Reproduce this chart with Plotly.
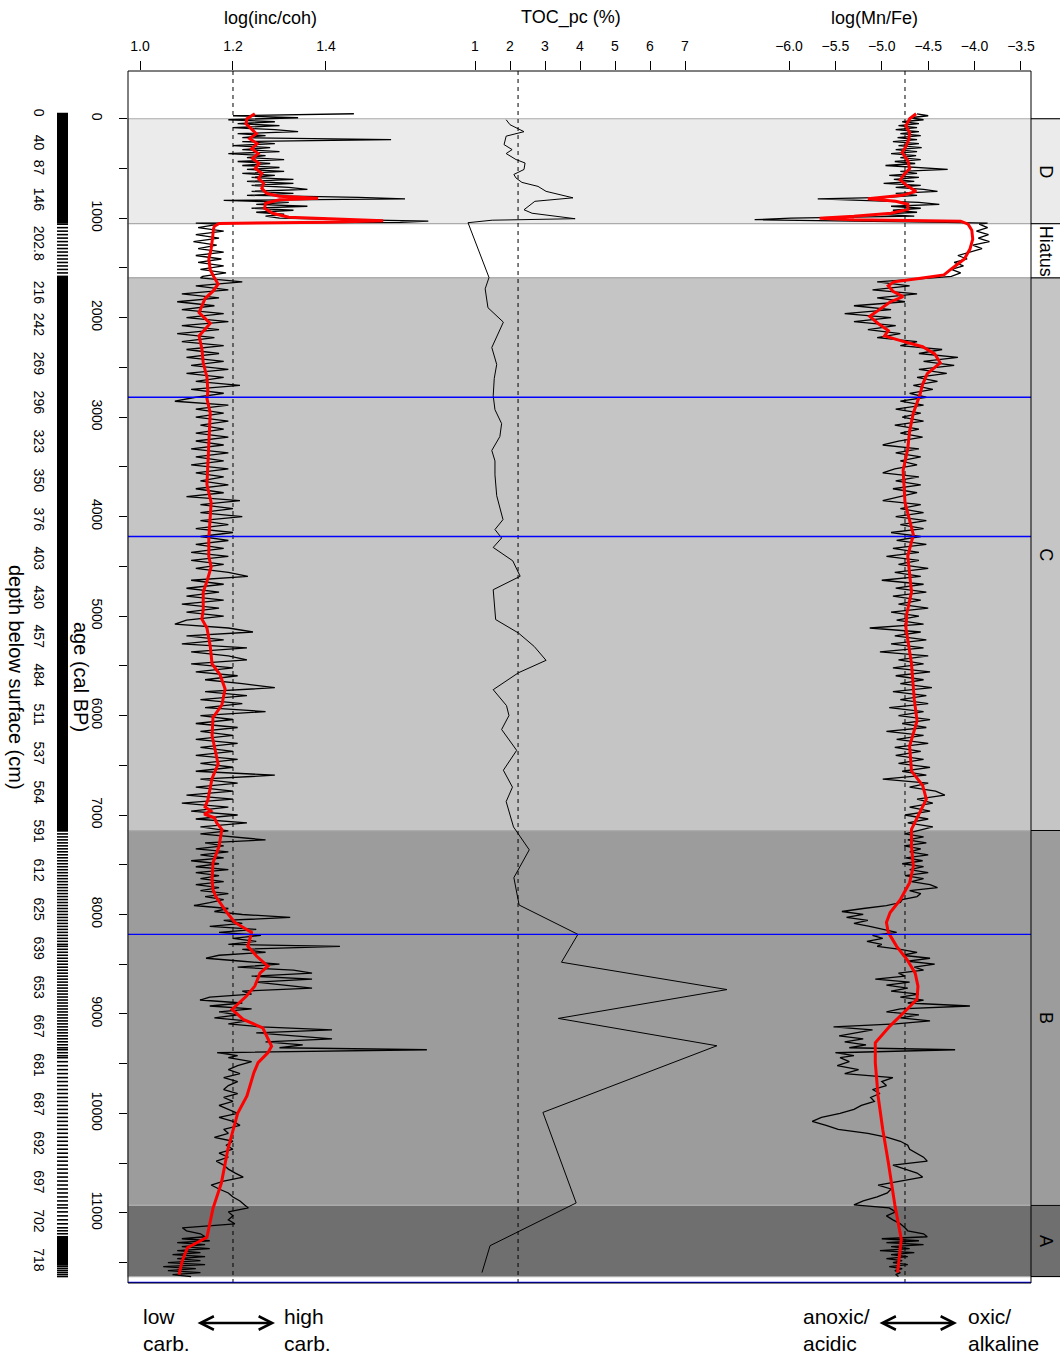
import plotly.graph_objects as go

FONT = "Liberation Sans, Arial, Helvetica, sans-serif"

# ------------------------------------------------------------------ data
# XRF sample ages (cal BP), one list per zone
age_D = [-50, -30, -10, 10, 30, 50, 70, 90, 110, 130, 150, 170, 190, 210, 230, 250, 270, 290, 310, 330,
         350, 370, 390, 410, 430, 450, 470, 490, 510, 530, 550, 570, 590, 610, 630, 650, 670, 690, 710, 730,
         750, 770, 790, 805, 820, 840, 860, 880, 900, 920, 940, 960, 980, 1000, 1015, 1030, 1042, 1050]
age_H = [1060, 1095, 1130, 1165, 1200, 1235, 1270, 1305, 1340, 1375, 1410, 1445, 1480, 1515, 1550, 1585]
age_C = [1600, 1640, 1680, 1720, 1760, 1800, 1840, 1880, 1920, 1960,
         2000, 2040, 2080, 2120, 2160, 2200, 2240, 2280, 2320, 2360,
         2400, 2440, 2480, 2520, 2560, 2600, 2640, 2680, 2720, 2760,
         2800, 2840, 2880, 2920, 2960, 3000, 3040, 3080, 3120, 3160,
         3200, 3240, 3280, 3320, 3360, 3400, 3440, 3480, 3520, 3560,
         3600, 3640, 3680, 3720, 3760, 3800, 3840, 3880, 3920, 3960,
         4000, 4040, 4080, 4120, 4160, 4200, 4240, 4280, 4320, 4360,
         4400, 4440, 4480, 4520, 4560, 4600, 4640, 4680, 4720, 4760,
         4800, 4840, 4880, 4920, 4960, 5000, 5040, 5080, 5120, 5160,
         5200, 5240, 5280, 5320, 5360, 5400, 5440, 5480, 5520, 5560,
         5600, 5640, 5680, 5720, 5760, 5800, 5840, 5880, 5920, 5960,
         6000, 6040, 6080, 6120, 6160, 6200, 6240, 6280, 6320, 6360,
         6400, 6440, 6480, 6520, 6560, 6600, 6640, 6680, 6720, 6760,
         6800, 6840, 6880, 6920, 6960, 7000, 7040, 7080, 7120]
age_B1 = [7160, 7190, 7220, 7250, 7280, 7310, 7340, 7370, 7400, 7430, 7460, 7490, 7520, 7550, 7580, 7610,
          7640, 7670, 7700, 7730, 7760, 7790, 7820, 7850, 7880, 7910, 7940, 7970, 8000, 8030, 8060, 8090,
          8120, 8150, 8180, 8210, 8240, 8270, 8300,
          8320, 8350, 8380, 8410, 8440, 8470, 8500, 8530, 8560, 8590, 8620, 8650, 8680, 8710, 8740, 8770,
          8800, 8830, 8860, 8890, 8920, 8950, 8980, 9010, 9040, 9070, 9100, 9130, 9160, 9190, 9220, 9250,
          9280, 9310, 9340, 9360, 9390, 9420, 9440]
age_B2 = [9480, 9520, 9560, 9600, 9640, 9680, 9720, 9760, 9800, 9840, 9880, 9920, 9960, 10000, 10040, 10080,
          10120, 10160, 10200, 10240, 10280, 10320, 10360, 10400, 10440, 10480, 10520, 10560, 10600, 10640,
          10680, 10720, 10760, 10800, 10840, 10880]
age_A = [10920, 10950, 10990, 11030, 11070, 11110, 11150, 11180, 11210,
         11240, 11260, 11280, 11300, 11320, 11340, 11360, 11380, 11400, 11420, 11440, 11460, 11480, 11500,
         11520, 11540, 11560, 11580, 11600, 11620, 11640]

# log(inc/coh) raw
inc_D = [1.46, 1.20, 1.34, 1.19, 1.29, 1.21, 1.30, 1.20, 1.29, 1.34, 1.21, 1.27, 1.22, 1.54, 1.22, 1.29, 1.20,
         1.28, 1.22, 1.30, 1.19, 1.27, 1.23, 1.31, 1.21, 1.28, 1.22, 1.30, 1.23, 1.31, 1.22, 1.29, 1.24, 1.33,
         1.23, 1.33, 1.24, 1.32, 1.36, 1.24, 1.33, 1.23, 1.47, 1.57, 1.18, 1.32, 1.25, 1.36, 1.24, 1.33, 1.25,
         1.31, 1.27, 1.30, 1.45, 1.62, 1.56, 1.12]
inc_H = [1.17, 1.125, 1.18, 1.12, 1.17, 1.115, 1.165, 1.125, 1.18, 1.12, 1.175, 1.125, 1.18, 1.13, 1.185, 1.135]
inc_C = [1.13, 1.22, 1.12, 1.19, 1.09, 1.17, 1.08, 1.16, 1.09, 1.18,
         1.10, 1.19, 1.09, 1.17, 1.08, 1.16, 1.09, 1.18, 1.10, 1.17,
         1.10, 1.18, 1.11, 1.19, 1.10, 1.18, 1.12, 1.215, 1.11, 1.18,
         1.12, 1.075, 1.19, 1.12, 1.18, 1.12, 1.19, 1.13, 1.18, 1.12,
         1.19, 1.12, 1.18, 1.11, 1.19, 1.12, 1.18, 1.11, 1.19, 1.12,
         1.18, 1.13, 1.19, 1.12, 1.18, 1.10, 1.215, 1.13, 1.20, 1.13,
         1.22, 1.13, 1.19, 1.12, 1.20, 1.13, 1.19, 1.12, 1.18, 1.11,
         1.19, 1.11, 1.18, 1.12, 1.19, 1.232, 1.11, 1.18, 1.10, 1.17,
         1.10, 1.18, 1.09, 1.17, 1.10, 1.18, 1.10, 1.075, 1.19, 1.243,
         1.10, 1.18, 1.09, 1.23, 1.11, 1.19, 1.23, 1.11, 1.20, 1.12,
         1.21, 1.14, 1.22, 1.29, 1.14, 1.23, 1.13, 1.22, 1.14, 1.27,
         1.13, 1.20, 1.12, 1.21, 1.13, 1.20, 1.12, 1.21, 1.13, 1.20,
         1.12, 1.21, 1.13, 1.20, 1.12, 1.29, 1.13, 1.21, 1.12, 1.20,
         1.10, 1.20, 1.09, 1.19, 1.11, 1.21, 1.12, 1.23, 1.13]
inc_B1 = [1.19, 1.13, 1.20, 1.27, 1.14, 1.18, 1.12, 1.19, 1.13, 1.18, 1.11, 1.17, 1.12, 1.19, 1.12, 1.17,
          1.13, 1.18, 1.12, 1.17, 1.13, 1.19, 1.14, 1.18, 1.15, 1.116, 1.19, 1.16, 1.22, 1.323, 1.18, 1.22,
          1.15, 1.25, 1.17, 1.26, 1.20, 1.25, 1.19,
          1.43, 1.22, 1.27, 1.17, 1.142, 1.22, 1.30, 1.21, 1.33, 1.37, 1.24, 1.37, 1.25, 1.31, 1.37, 1.22,
          1.24, 1.15, 1.129, 1.22, 1.15, 1.24, 1.17, 1.21, 1.16, 1.23, 1.19, 1.26, 1.413, 1.25, 1.33, 1.413,
          1.27, 1.35, 1.30, 1.617, 1.166, 1.21, 1.19]
inc_B2 = [1.24, 1.21, 1.19, 1.215, 1.18, 1.21, 1.19, 1.18, 1.21, 1.18, 1.20, 1.17, 1.19, 1.21, 1.17, 1.20,
          1.215, 1.18, 1.19, 1.16, 1.20, 1.185, 1.20, 1.17, 1.19, 1.164, 1.18, 1.19, 1.205, 1.222,
          1.18, 1.153, 1.17, 1.19, 1.20, 1.215]
inc_A = [1.225, 1.233, 1.19, 1.20, 1.19, 1.204, 1.091, 1.10, 1.13,
         1.14, 1.09, 1.15, 1.08, 1.14, 1.09, 1.15, 1.08, 1.13, 1.07, 1.14, 1.08, 1.13, 1.06,
         1.14, 1.05, 1.12, 1.06, 1.13, 1.07, 1.11]

# log(Mn/Fe) raw
mn_D = [-4.62, -4.50, -4.70, -4.55, -4.78, -4.60, -4.82, -4.62, -4.85, -4.60, -4.80, -4.58, -4.83, -4.62,
        -4.88, -4.60, -4.82, -4.57, -4.85, -4.62, -4.90, -4.63, -4.80, -4.58, -4.86, -4.64, -4.96, -4.55,
        -4.29, -4.80, -4.62, -4.92, -4.60, -4.87, -4.65, -4.98, -4.58, -4.85, -4.55, -4.40, -4.85, -4.62,
        -4.95, -5.69, -5.30, -4.60, -4.38, -4.90, -4.58, -4.88, -4.62, -5.05, -4.65, -5.98, -6.37, -5.00,
        -4.30, -3.86]
mn_H = [-3.95, -3.86, -3.98, -3.85, -3.96, -3.84, -4.02, -3.92, -4.05, -4.18, -4.08, -4.22, -4.12, -4.25,
        -4.15, -4.25]
mn_C = [-4.45, -5.05, -4.70, -5.10, -4.62, -5.05, -4.75, -5.30, -4.90, -5.40,
        -4.90, -5.30, -4.85, -5.15, -4.80, -5.05, -4.62, -4.80, -4.35, -4.60,
        -4.18, -4.55, -4.22, -4.60, -4.30, -4.62, -4.40, -4.66, -4.45, -4.70,
        -4.52, -4.80, -4.55, -4.85, -4.58, -4.78, -4.55, -4.86, -4.60, -4.80,
        -4.56, -4.82, -4.99, -4.60, -4.85, -4.58, -4.80, -4.62, -4.86, -4.99,
        -4.60, -4.85, -4.58, -4.88, -4.62, -4.82, -4.99, -4.58, -4.80, -4.55,
        -4.85, -4.52, -4.80, -4.55, -4.90, -4.58, -4.84, -4.52, -4.88, -4.60,
        -4.95, -4.60, -4.82, -4.50, -4.86, -4.58, -5.00, -4.55, -4.85, -4.52,
        -4.88, -4.58, -4.82, -4.50, -4.90, -4.60, -4.84, -4.55, -5.13, -4.58,
        -4.86, -4.52, -4.90, -4.55, -5.02, -4.50, -4.82, -4.55, -4.88, -4.48,
        -4.85, -4.55, -4.80, -4.46, -4.88, -4.52, -4.80, -4.50, -4.92, -4.55,
        -4.82, -4.48, -4.78, -4.52, -4.95, -4.55, -4.84, -4.50, -4.86, -4.58,
        -4.85, -4.55, -4.82, -4.48, -4.78, -4.52, -4.99, -4.50, -4.70, -4.42,
        -4.32, -4.62, -4.45, -4.70, -4.48, -4.75, -4.50, -4.72, -4.45]
mn_B1 = [-4.62, -4.75, -4.55, -4.72, -4.52, -4.76, -4.58, -4.70, -4.50, -4.74, -4.56, -4.78, -4.55, -4.70,
         -4.50, -4.75, -4.55, -4.68, -4.48, -4.40, -4.70, -4.58, -4.62, -4.78, -4.80, -4.95, -5.20, -5.43,
         -5.20, -5.38, -5.15, -5.30, -5.13, -5.00, -4.84, -5.10, -4.99, -5.16, -5.00,
         -5.05, -4.80, -4.62, -4.78, -4.48, -4.72, -4.43, -4.65, -4.55, -4.82, -4.75, -5.07, -4.70, -4.95,
         -4.72, -4.90, -4.60, -4.80, -4.55, -4.72, -4.05, -4.80, -4.95, -4.60, -4.80, -4.48, -4.85, -5.52,
         -5.10, -5.30, -5.46, -5.20, -5.40, -5.17, -5.35, -4.21, -5.50, -5.30, -5.45]
mn_B2 = [-5.35, -5.48, -5.25, -5.40, -4.88, -5.00, -4.95, -5.10, -5.02, -5.12, -5.08, -5.22, -5.30, -5.45,
         -5.65, -5.75, -5.60, -5.47, -5.15, -4.94, -4.80, -4.72, -4.70, -4.62, -4.55, -4.51, -4.88, -4.75,
         -4.62, -4.56, -4.80, -5.04, -4.90, -4.94, -5.05, -5.20]
mn_A = [-5.30, -4.92, -4.85, -4.95, -4.88, -4.80, -4.75, -4.72, -4.55,
        -4.51, -5.00, -4.60, -4.95, -4.55, -4.90, -4.70, -5.02, -4.65, -4.90, -4.72, -4.95, -4.78, -4.88,
        -4.72, -4.92, -4.78, -4.86, -4.80, -4.85, -4.82]

# smoothed curves (red)
inc_smooth_age = [-50, 0, 50, 100, 150, 200, 250, 300, 350, 400, 450, 500, 550, 600, 650, 700, 750, 780, 800,
                  815, 850, 900, 950, 990, 1010, 1025, 1040, 1052, 1080, 1110, 1200, 1310, 1410, 1518, 1600,
                  1662, 1734, 1806, 1950, 2058, 2184, 2310, 2454, 2598, 2742, 2814, 2958, 3319, 3679, 3859,
                  4039, 4219, 4399, 4507, 4651, 4759, 4939, 5030, 5120, 5300, 5480, 5588, 5732, 5894, 6020,
                  6200, 6488, 6632, 6848, 6920, 6960, 6990, 7028, 7080, 7145, 7315, 7480, 7650, 7750, 7820,
                  7980, 8080, 8180, 8250, 8320, 8420, 8520, 8590, 8720, 8820, 8955, 9055, 9140, 9325, 9390,
                  9490, 9590, 9825, 10000, 10360, 10700, 10955, 11245, 11350, 11480, 11620]
inc_smooth = [1.247, 1.230, 1.228, 1.240, 1.250, 1.236, 1.252, 1.240, 1.254, 1.242, 1.256, 1.248, 1.262,
              1.255, 1.266, 1.262, 1.272, 1.30, 1.383, 1.30, 1.270, 1.268, 1.285, 1.32, 1.45, 1.523, 1.40,
              1.17, 1.160, 1.158, 1.156, 1.153, 1.148, 1.151, 1.160, 1.168, 1.157, 1.140, 1.127, 1.151,
              1.127, 1.133, 1.136, 1.144, 1.146, 1.144, 1.151, 1.148, 1.144, 1.153, 1.151, 1.148, 1.148,
              1.153, 1.144, 1.136, 1.136, 1.133, 1.144, 1.151, 1.155, 1.172, 1.183, 1.176, 1.157, 1.155,
              1.168, 1.155, 1.146, 1.140, 1.152, 1.138, 1.160, 1.165, 1.176, 1.170, 1.157, 1.155, 1.157,
              1.163, 1.187, 1.204, 1.240, 1.236, 1.232, 1.251, 1.275, 1.258, 1.247, 1.229, 1.198, 1.222,
              1.264, 1.283, 1.275, 1.254, 1.245, 1.230, 1.210, 1.189, 1.175, 1.157, 1.144, 1.102, 1.091,
              1.084]
mn_smooth_age = [-50, 0, 70, 140, 210, 280, 340, 420, 500, 560, 615, 680, 730, 770, 805, 830, 860, 910, 950,
                 980, 1000, 1015, 1030, 1060, 1120, 1210, 1310, 1410, 1510, 1570, 1605, 1640, 1680, 1734,
                 1788, 1842, 1986, 2058, 2130, 2184, 2238, 2292, 2364, 2454, 2562, 2670, 2778, 2958, 3138,
                 3318, 3534, 3858, 4038, 4182, 4398, 4758, 4974, 5118, 5478, 5838, 6054, 6306, 6558, 6702,
                 6840, 6975, 7145, 7315, 7515, 7680, 7850, 7980, 8080, 8180, 8320, 8450, 8590, 8720, 8850,
                 8955, 9120, 9290, 9490, 9825, 10160, 10490, 10830, 10915, 11265, 11600]
mn_smooth = [-4.63, -4.70, -4.74, -4.70, -4.71, -4.74, -4.78, -4.72, -4.70, -4.76, -4.80, -4.72, -4.63,
             -4.78, -5.15, -4.85, -4.72, -4.72, -4.90, -5.30, -5.67, -5.30, -4.15, -4.07, -4.03, -4.02,
             -4.05, -4.11, -4.25, -4.33, -4.60, -4.87, -4.93, -4.88, -4.77, -4.91, -5.13, -5.04, -4.93,
             -4.97, -4.77, -4.56, -4.43, -4.37, -4.51, -4.56, -4.59, -4.66, -4.70, -4.72, -4.77, -4.75,
             -4.70, -4.66, -4.72, -4.68, -4.73, -4.74, -4.68, -4.65, -4.62, -4.70, -4.68, -4.56, -4.52,
             -4.59, -4.68, -4.68, -4.66, -4.70, -4.80, -4.91, -4.95, -4.93, -4.84, -4.73, -4.64, -4.61,
             -4.62, -4.73, -4.91, -5.07, -5.07, -5.04, -4.99, -4.93, -4.88, -4.86, -4.79, -4.83]

# TOC (%)
toc_age = [10, 60, 130, 175, 260, 310, 350, 410, 445, 510, 560, 595, 640, 680, 730, 795, 830, 915, 950, 1005,
           1020, 1045, 1596, 1710, 1900, 2045, 2300, 2470, 2610, 2785, 2925, 3065, 3195, 3335, 3440, 3580,
           3790, 4030, 4130, 4215, 4310, 4445, 4600, 4735, 5035, 5170, 5305, 5445, 5570, 5740, 5900, 6000,
           6140, 6350, 6550, 6720, 6865, 7120, 7350, 7630, 7905, 8200, 8480, 8755, 9045, 9320, 9990, 10900,
           11330, 11600]
toc_val = [1.89, 2.0, 2.40, 1.89, 1.83, 2.06, 1.89, 2.17, 2.43, 2.40, 2.11, 2.17, 2.34, 2.8, 3.03, 3.8, 2.71,
           2.40, 2.63, 3.86, 1.49, 0.8, 1.40, 1.29, 1.37, 1.81, 1.48, 1.62, 1.55, 1.52, 1.57, 1.76, 1.71,
           1.48, 1.57, 1.57, 1.62, 1.80, 1.57, 1.76, 1.52, 2.08, 2.29, 1.52, 1.59, 2.24, 2.69, 3.03, 2.24,
           1.52, 1.90, 1.97, 1.76, 2.19, 1.81, 2.07, 1.89, 2.10, 2.55, 2.11, 2.26, 3.94, 3.47, 8.2, 3.38,
           7.91, 2.94, 3.89, 1.43, 1.2]

# reference (dashed) values
ref_inc, ref_toc, ref_mn = 1.2, 2.23, -4.75

# zones
zone_name = ["D", "Hiatus", "C", "B", "A"]
zone_start = [0, 1055, 1600, 7156, 10925]
zone_end = [1055, 1600, 7156, 10925, 11640]
zone_fill = ["#EBEBEB", "#FFFFFF", "#C5C5C5", "#9C9C9C", "#6F6F6F"]

# climate events (blue lines)
event_age = [2800, 4200, 8200, 11700]

# age axis ticks
age_ticks = [0, 500, 1000, 1500, 2000, 2500, 3000, 3500, 4000, 4500, 5000, 5500, 6000, 6500, 7000, 7500,
             8000, 8500, 9000, 9500, 10000, 10500, 11000, 11500]
age_ticklabels = ["0", "", "1000", "", "2000", "", "3000", "", "4000", "", "5000", "", "6000", "", "7000", "",
                  "8000", "", "9000", "", "10000", "", "11000", ""]

# depth labels (cm) and the ages where they are written
depth_label = ["0", "40", "87", "146", "202.8", "216", "242", "269", "296", "323", "350", "376", "403", "430",
               "457", "484", "511", "537", "564", "591", "612", "625", "639", "653", "667", "681", "687", "692",
               "697", "702", "718"]
depth_label_age = [-60, 241, 492, 814, 1246, 1749, 2070, 2462, 2854, 3246, 3638, 4030, 4422, 4814, 5206, 5597,
                   5989, 6381, 6773, 7165, 7557, 7949, 8341, 8733, 9125, 9517, 9909, 10301, 10692, 11084, 11476]

# sample-density bar: continuous (dense) stretches
bar_dense_start = [-60, 1592, 11235]
bar_dense_end = [1052, 7160, 11530]

inc_ticks = [1.0, 1.2, 1.4]
toc_ticks = [1, 2, 3, 4, 5, 6, 7]
mn_ticks = [-6.0, -5.5, -5.0, -4.5, -4.0, -3.5]

xrf_age = age_D + age_H + age_C + age_B1 + age_B2 + age_A
inc_raw = inc_D + inc_H + inc_C + inc_B1 + inc_B2 + inc_A
mn_raw = mn_D + mn_H + mn_C + mn_B1 + mn_B2 + mn_A
for a, b, c in [(age_D, inc_D, mn_D), (age_H, inc_H, mn_H), (age_C, inc_C, mn_C),
                (age_B1, inc_B1, mn_B1), (age_B2, inc_B2, mn_B2), (age_A, inc_A, mn_A)]:
    assert len(a) == len(b) == len(c), (len(a), len(b), len(c))
assert len(inc_smooth_age) == len(inc_smooth)
assert len(mn_smooth_age) == len(mn_smooth)
assert len(toc_age) == len(toc_val)

# ------------------------------------------------------------------ layout geometry
W, H = 1060, 1358
ML, MR, MT, MB = 128, 29, 71, 75
PW = W - ML - MR
PH = H - MT - MB


def px(xpix):
    return (xpix - ML) / PW


def py(ypix):
    return 1 - (ypix - MT) / PH


D1 = px(430)
D2 = px(731)
X_STRIP = px(1062)

fig = go.Figure()
fig.add_trace(go.Scatter(x=inc_raw, y=xrf_age, xaxis="x", yaxis="y", mode="lines",
                         line=dict(color="black", width=1.3), hoverinfo="skip"))
fig.add_trace(go.Scatter(x=inc_smooth, y=inc_smooth_age, xaxis="x", yaxis="y", mode="lines",
                         line=dict(color="#FF0000", width=3), hoverinfo="skip"))
fig.add_trace(go.Scatter(x=toc_val, y=toc_age, xaxis="x2", yaxis="y", mode="lines",
                         line=dict(color="black", width=1), hoverinfo="skip"))
fig.add_trace(go.Scatter(x=mn_raw, y=xrf_age, xaxis="x3", yaxis="y", mode="lines",
                         line=dict(color="black", width=1.3), hoverinfo="skip"))
fig.add_trace(go.Scatter(x=mn_smooth, y=mn_smooth_age, xaxis="x3", yaxis="y", mode="lines",
                         line=dict(color="#FF0000", width=3), hoverinfo="skip"))

shapes = []
for s, e, c in zip(zone_start, zone_end, zone_fill):
    shapes.append(dict(type="rect", xref="paper", yref="y", x0=0, x1=X_STRIP, y0=s, y1=e,
                       fillcolor=c, line=dict(color="#ABABAB", width=1.2), layer="below"))
for xr, v in [("x", ref_inc), ("x2", ref_toc), ("x3", ref_mn)]:
    shapes.append(dict(type="line", xref=xr, yref="paper", x0=v, x1=v, y0=0, y1=1,
                       line=dict(color="black", width=1, dash="4px,4px"), layer="below"))
for a in event_age:
    shapes.append(dict(type="line", xref="paper", yref="y", x0=0, x1=1, y0=a, y1=a,
                       line=dict(color="#0000FF", width=1.3), layer="above"))
for b in zone_start + [zone_end[-1]]:
    shapes.append(dict(type="line", xref="paper", yref="y", x0=1, x1=X_STRIP, y0=b, y1=b,
                       line=dict(color="black", width=1), layer="above"))
shapes.append(dict(type="rect", xref="paper", yref="paper", x0=0, x1=1, y0=0, y1=1,
                   line=dict(color="black", width=1), fillcolor="rgba(0,0,0,0)", layer="above"))
# sample-density bar
BX0, BX1 = px(57), px(68)
for s, e in zip(bar_dense_start, bar_dense_end):
    shapes.append(dict(type="rect", xref="paper", yref="y", x0=BX0, x1=BX1, y0=s, y1=e,
                       fillcolor="black", line=dict(width=0), layer="above"))
for a in age_H + age_B1 + age_B2 + age_A:
    shapes.append(dict(type="line", xref="paper", yref="y", x0=BX0, x1=BX1, y0=a, y1=a,
                       line=dict(color="black", width=1.6), layer="above"))

ann = []
for txt, xc in [("log(inc/coh)", 270), ("TOC_pc (%)", 571), ("log(Mn/Fe)", 874)]:
    ann.append(dict(text=txt, xref="paper", yref="paper", x=px(xc), y=py(18), showarrow=False,
                    xanchor="center", yanchor="middle", font=dict(size=18)))
for name, s, e in zip(zone_name, zone_start, zone_end):
    ann.append(dict(text=name, xref="paper", yref="y", x=px(1046), y=(s + e) / 2, showarrow=False,
                    textangle=90, xanchor="center", yanchor="middle", font=dict(size=18)))
for t, a in zip(depth_label, depth_label_age):
    ann.append(dict(text=t, xref="paper", yref="y", x=px(39), y=a, showarrow=False, textangle=90,
                    xanchor="center", yanchor="middle", font=dict(size=14)))
ann.append(dict(text="age (cal BP)", xref="paper", yref="paper", x=px(81), y=0.5, showarrow=False,
                textangle=90, xanchor="center", yanchor="middle", font=dict(size=20)))
ann.append(dict(text="depth below surface (cm)", xref="paper", yref="paper", x=px(16), y=0.5,
                showarrow=False, textangle=90, xanchor="center", yanchor="middle", font=dict(size=20)))
for txt, xl in [("low<br>carb.", 141), ("high<br>carb.", 282), ("anoxic/<br>acidic", 801),
                ("oxic/<br>alkaline", 966)]:
    ann.append(dict(text=txt, xref="paper", yref="paper", x=px(xl), y=py(1330), showarrow=False,
                    xanchor="left", yanchor="middle", align="left", font=dict(size=21)))
for x_head in [275, 957]:
    ann.append(dict(text="", xref="paper", yref="paper", x=px(x_head), y=py(1323), ax=-79, ay=0,
                    axref="pixel", ayref="pixel", showarrow=True, arrowside="end+start",
                    arrowhead=5, startarrowhead=5, arrowsize=1.1, startarrowsize=1.1,
                    arrowwidth=2.4, arrowcolor="black", standoff=0, startstandoff=0))

top_axis = dict(side="top", anchor="y", ticks="outside", ticklen=9, tickwidth=1, tickcolor="black",
                showgrid=False, zeroline=False, showline=False, automargin=False,
                tickfont=dict(size=14, color="black"), ticklabelstandoff=4, fixedrange=True)

fig.update_layout(
    width=W, height=H, margin=dict(l=ML, r=MR, t=MT, b=MB, pad=0),
    paper_bgcolor="white", plot_bgcolor="white", showlegend=False,
    font=dict(family=FONT, color="black"),
    xaxis=dict(domain=[0, D1], range=[0.9742, 1.6237], tickvals=inc_ticks,
               ticktext=["1.0", "1.2", "1.4"], **top_axis),
    xaxis2=dict(domain=[D1, D2], range=[-0.286, 8.314], tickvals=toc_ticks,
                ticktext=[str(t) for t in toc_ticks], **top_axis),
    xaxis3=dict(domain=[D2, 1], range=[-6.625, -3.392], tickvals=mn_ticks,
                ticktext=["\u22126.0", "\u22125.5", "\u22125.0", "\u22124.5", "\u22124.0", "\u22123.5"],
                **top_axis),
    yaxis=dict(domain=[0, 1], range=[11705, -480], tickvals=age_ticks, ticktext=age_ticklabels,
               tickangle=90, ticks="outside", ticklen=8, tickwidth=1, tickcolor="black",
               showgrid=False, zeroline=False, showline=False, automargin=False,
               tickfont=dict(size=14, color="black"), ticklabelstandoff=10, fixedrange=True),
    shapes=shapes, annotations=ann,
)

fig.write_html("out.html")
